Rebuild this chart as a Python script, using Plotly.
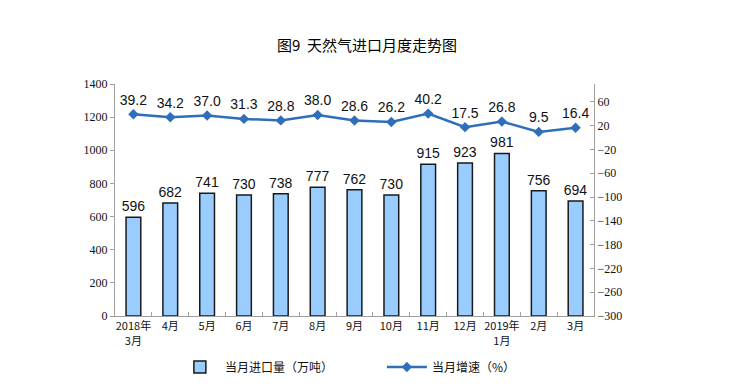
import plotly.graph_objects as go

categories = ["2018年<br>3月", "4月", "5月", "6月", "7月", "8月", "9月", "10月",
              "11月", "12月", "2019年<br>1月", "2月", "3月"]
imports = [596, 682, 741, 730, 738, 777, 762, 730, 915, 923, 981, 756, 694]
growth = [39.2, 34.2, 37.0, 31.3, 28.8, 38.0, 28.6, 26.2, 40.2, 17.5, 26.8, 9.5, 16.4]
left_ticks = [0, 200, 400, 600, 800, 1000, 1200, 1400]
right_ticks = [-300, -260, -220, -180, -140, -100, -60, -20, 20, 60]

fig = go.Figure()
fig.add_trace(go.Bar(
    x=categories, y=imports, name="当月进口量（万吨）",
    marker=dict(color="#99CCFF", line=dict(color="#1a1a1a", width=1.5)),
    width=0.4,
    text=[str(v) for v in imports], textposition="outside",
    constraintext="none",
    textfont=dict(family="Liberation Sans, Arial", size=14, color="#111"),
    cliponaxis=False,
))
fig.add_trace(go.Scatter(
    x=categories, y=growth, name="当月增速（%）", yaxis="y2",
    mode="lines+markers+text",
    line=dict(color="#2F6EBA", width=2.5),
    marker=dict(symbol="diamond", size=8, color="#2F6EBA"),
    text=[f"{v:.1f}" for v in growth], textposition="top center",
    textfont=dict(family="Liberation Sans, Arial", size=14, color="#111"),
    cliponaxis=False,
))

fig.update_layout(
    width=735, height=386,
    margin=dict(l=107, r=149, t=76, b=78, autoexpand=False),
    paper_bgcolor="white", plot_bgcolor="white",
    title=dict(text="图9  天然气进口月度走势图", x=(367 - 8) / 735, xanchor="center",
               y=1 - 38 / 386, yanchor="middle", yref="container",
               font=dict(family="Noto Sans CJK SC", size=15, color="#000")),
    showlegend=True,
    legend=dict(orientation="h", x=0.125, xanchor="left", y=-0.22, yanchor="middle",
                font=dict(family="Noto Sans CJK SC", size=12, color="#111"),
                entrywidth=152, itemwidth=40, bgcolor="rgba(0,0,0,0)"),
    xaxis=dict(
        type="category", range=[-0.5, len(categories) - 0.5],
        showline=True, linecolor="#a0a0a0", linewidth=1,
        ticks="inside", ticklen=4, tickcolor="#a0a0a0", tickson="boundaries",
        tickangle=0, automargin=False,
        tickfont=dict(family="Noto Sans CJK SC", size=11, color="#111"),
        showgrid=False,
    ),
    yaxis=dict(
        range=[0, 1400], tickvals=left_ticks, showgrid=False, automargin=False,
        showline=True, linecolor="#a0a0a0", linewidth=1,
        ticks="outside", ticklen=4, tickcolor="#a0a0a0",
        tickfont=dict(family="Liberation Serif, Times New Roman", size=12, color="#111"),
        zeroline=False,
    ),
    yaxis2=dict(
        overlaying="y", side="right", range=[-300, 90], tickvals=right_ticks,
        showgrid=False, showline=True, linecolor="#a0a0a0", linewidth=1, automargin=False,
        ticks="inside", ticklen=4, tickcolor="#a0a0a0",
        tickfont=dict(family="Liberation Serif, Times New Roman", size=12, color="#111"),
        zeroline=False,
    ),
)

fig.write_html("out.html")
